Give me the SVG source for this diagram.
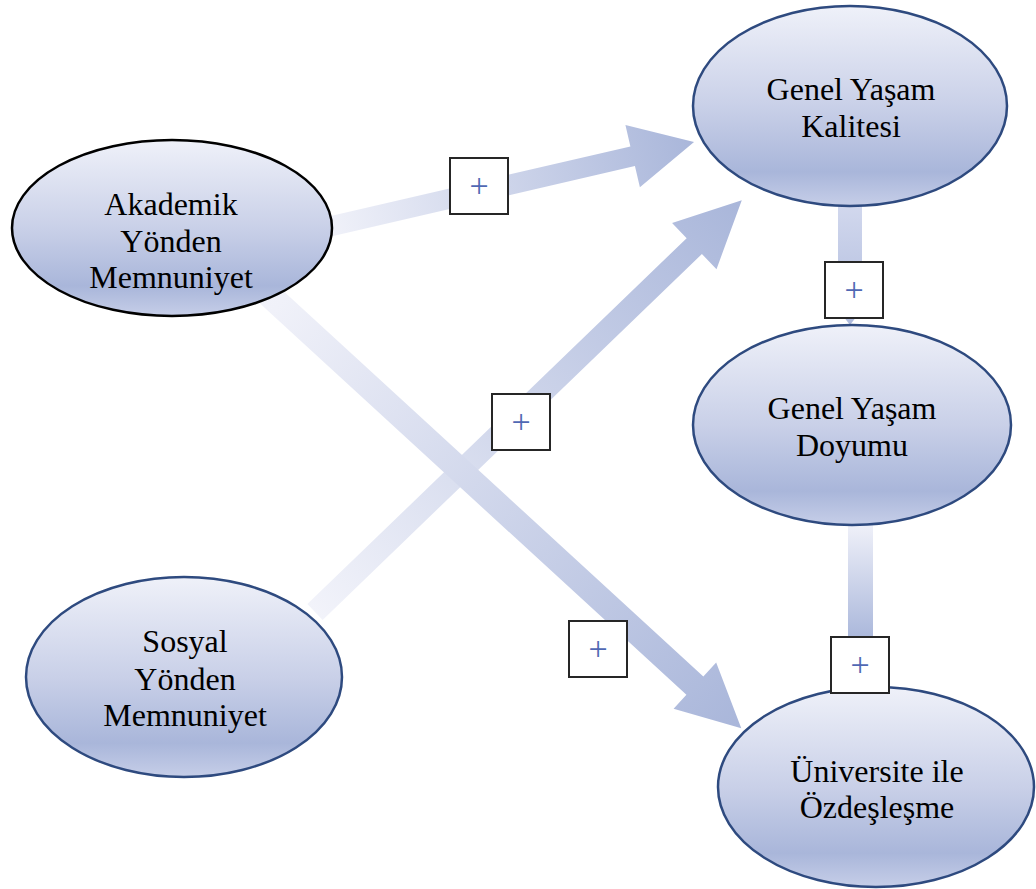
<svg xmlns="http://www.w3.org/2000/svg" width="1036" height="889" viewBox="0 0 1036 889">
<defs>
<linearGradient id="eg" x1="0" y1="0" x2="0" y2="1">
<stop offset="0" stop-color="#EFF1F9"/>
<stop offset="0.5" stop-color="#C9D0E8"/>
<stop offset="0.83" stop-color="#A9B6DA"/>
<stop offset="1" stop-color="#C6CEE8"/>
</linearGradient>
<linearGradient id="ag" x1="0" y1="0" x2="1" y2="0">
<stop offset="0" stop-color="#F2F3FA"/>
<stop offset="1" stop-color="#A9B6DA"/>
</linearGradient>
<linearGradient id="ag3" x1="0" y1="0" x2="1" y2="0">
<stop offset="0" stop-color="#F2F3FA"/>
<stop offset="0.05" stop-color="#F0F1F9"/>
<stop offset="1" stop-color="#A9B6DA"/>
</linearGradient>
<linearGradient id="ag4" x1="0" y1="0" x2="1" y2="0">
<stop offset="0" stop-color="#D3D9EE"/>
<stop offset="1" stop-color="#AFBBDD"/>
</linearGradient>
<linearGradient id="ag5" x1="0" y1="0" x2="1" y2="0">
<stop offset="0" stop-color="#F2F3FA"/>
<stop offset="0.7" stop-color="#AAB7DB"/>
<stop offset="1" stop-color="#A9B6DA"/>
</linearGradient>
</defs>
<style>
.el{fill:url(#eg);stroke:#2E4A7F;stroke-width:2.5}
.el.blk{stroke:#000}
.lbl{font-family:"Liberation Serif","Times New Roman",serif;font-size:32px;fill:#000;text-anchor:middle}
.box{fill:#fff;stroke:#262626;stroke-width:2}
.plus{font-family:"Liberation Serif","Times New Roman",serif;font-size:34px;fill:#5068B4;text-anchor:middle}
</style>
<rect width="1036" height="889" fill="#fff"/>
<g id="connectors">
<g transform="translate(319,229) rotate(-13.07)">
<polygon fill="url(#ag)" points="0,-10 322,-10 322,-32 385,0 322,32 322,10 0,10"/>
</g>
<g transform="translate(315,612) rotate(-43.97)">
<polygon fill="url(#ag)" points="0,-11 527,-11 527,-32 593,0 527,32 527,11 0,11"/>
</g>
<g transform="translate(255,282) rotate(42.54)">
<polygon fill="url(#ag3)" points="0,-12.5 597,-12.5 597,-31.5 660,0 597,31.5 597,12.5 0,12.5"/>
</g>
<g transform="translate(850,200) rotate(90)">
<polygon fill="url(#ag4)" points="0,-12 95,-12 95,-23 125,0 95,23 95,12 0,12"/>
</g>
<g transform="translate(860.5,520) rotate(90)">
<polygon fill="url(#ag5)" points="0,-12.5 130,-12.5 130,-26 170,0 130,26 130,12.5 0,12.5"/>
</g>
</g>
<g id="akademik">
<ellipse class="el blk" cx="172" cy="228" rx="160" ry="88"/>
<text class="lbl" x="171" y="215">Akademik</text>
<text class="lbl" x="171" y="252">Yönden</text>
<text class="lbl" x="171" y="288">Memnuniyet</text>
</g>
<g id="kalite">
<ellipse class="el" cx="850" cy="106" rx="157" ry="100"/>
<text class="lbl" x="851" y="100">Genel Yaşam</text>
<text class="lbl" x="851" y="137">Kalitesi</text>
</g>
<g id="doyum">
<ellipse class="el" cx="852" cy="425" rx="159" ry="100"/>
<text class="lbl" x="852" y="419">Genel Yaşam</text>
<text class="lbl" x="852" y="456">Doyumu</text>
</g>
<g id="sosyal">
<ellipse class="el" cx="184" cy="677" rx="158" ry="100"/>
<text class="lbl" x="185" y="652">Sosyal</text>
<text class="lbl" x="185" y="690">Yönden</text>
<text class="lbl" x="185" y="726">Memnuniyet</text>
</g>
<g id="universite">
<ellipse class="el" cx="876" cy="787" rx="158" ry="100"/>
<text class="lbl" x="877" y="782">Üniversite ile</text>
<text class="lbl" x="877" y="818">Özdeşleşme</text>
</g>
<g id="plus1"><rect class="box" x="450" y="158" width="58" height="56"/><text class="plus" x="479" y="197">+</text></g>
<g id="plus2"><rect class="box" x="825" y="262" width="58" height="56"/><text class="plus" x="854" y="301">+</text></g>
<g id="plus3"><rect class="box" x="492" y="394" width="58" height="56"/><text class="plus" x="521" y="433">+</text></g>
<g id="plus4"><rect class="box" x="569" y="621" width="58" height="56"/><text class="plus" x="598" y="660">+</text></g>
<g id="plus5"><rect class="box" x="831" y="637" width="58" height="56"/><text class="plus" x="860" y="676">+</text></g>
</svg>
